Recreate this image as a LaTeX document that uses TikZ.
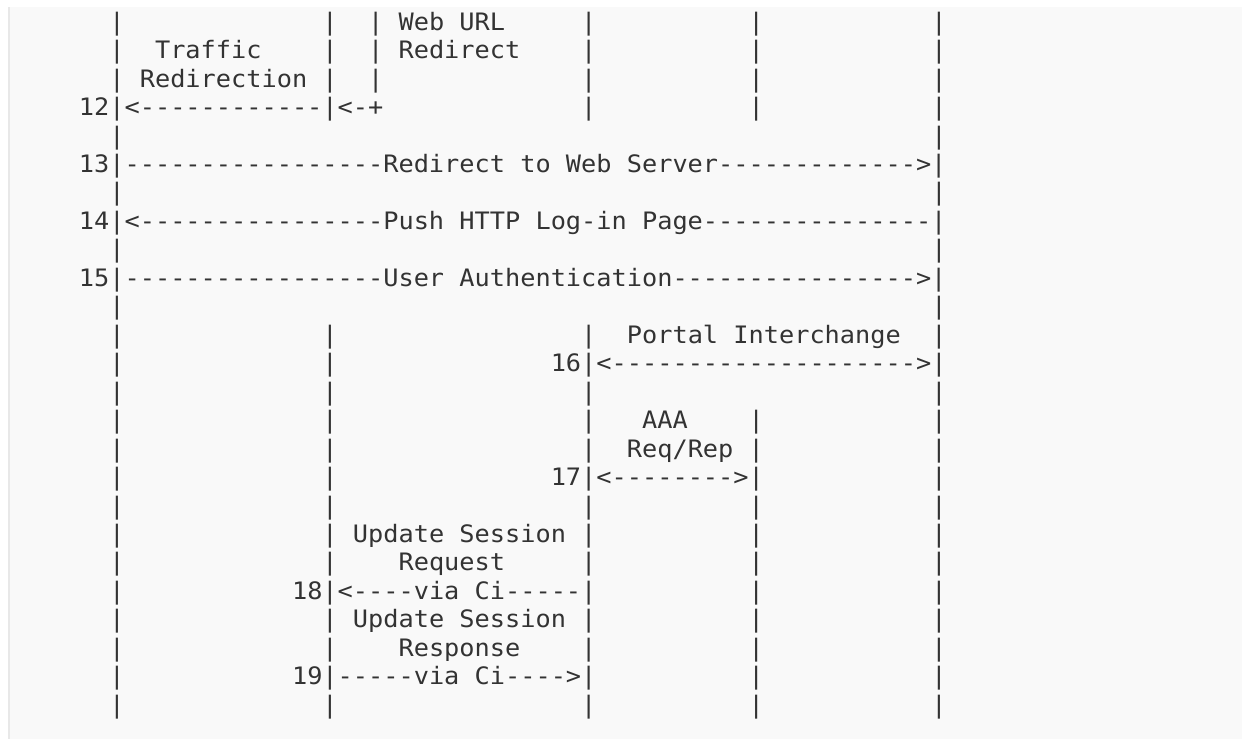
\documentclass[tikz,border=0pt]{standalone}
\usepackage{fontspec}
\usepackage{graphicx}
\setmonofont{DejaVu Sans Mono}
\definecolor{ink}{HTML}{333333}
\definecolor{prebg}{HTML}{F9F9F9}
\definecolor{preborder}{HTML}{E8E8E8}
\tikzset{
  asciitok/.style={anchor=base west, inner sep=0pt, outer sep=0pt, text=ink,
    font=\ttfamily\fontsize{24}{28}\selectfont}
}
\newcommand\tk[3]{\node[asciitok] (t#1c#2) at ({18.07+#2*15.22},{30.2+#1*28.46}) {\scalebox{1.0534}[1]{#3}};}
\newcommand\bars[2]{\foreach \cc in {#2} {\tk{#1}{\cc}{|}}}
\begin{document}
\begin{tikzpicture}[x=1pt,y=-1pt]
\useasboundingbox (0,0) rectangle (1242,739);
\fill[white] (0,0) rectangle (1242,739);
\fill[prebg] (8,7) rectangle (1242,739);
\draw[preborder, line width=1.5pt] (8.75,7) -- (8.75,739);
% row 0
\bars{0}{6,20,23,37,48,60}
\tk{0}{25}{Web URL}
% row 1
\bars{1}{6,20,23,37,48,60}
\tk{1}{9}{Traffic}
\tk{1}{25}{Redirect}
% row 2
\bars{2}{6,20,23,37,48,60}
\tk{2}{8}{Redirection}
% row 3
\tk{3}{4}{12|<------------|<-+}
\bars{3}{37,48,60}
% row 4
\bars{4}{6,60}
% row 5
\tk{5}{4}{13|-----------------Redirect to Web Server------------->|}
% row 6
\bars{6}{6,60}
% row 7
\tk{7}{4}{14|<----------------Push HTTP Log-in Page---------------|}
% row 8
\bars{8}{6,60}
% row 9
\tk{9}{4}{15|-----------------User Authentication---------------->|}
% row 10
\bars{10}{6,60}
% row 11
\bars{11}{6,20,37,60}
\tk{11}{40}{Portal Interchange}
% row 12
\bars{12}{6,20}
\tk{12}{35}{16|<-------------------->|}
% row 13
\bars{13}{6,20,37,60}
% row 14
\bars{14}{6,20,37,48,60}
\tk{14}{41}{AAA}
% row 15
\bars{15}{6,20,37,48,60}
\tk{15}{40}{Req/Rep}
% row 16
\bars{16}{6,20,60}
\tk{16}{35}{17|<-------->|}
% row 17
\bars{17}{6,20,37,48,60}
% row 18
\bars{18}{6,20,37,48,60}
\tk{18}{22}{Update Session}
% row 19
\bars{19}{6,20,37,48,60}
\tk{19}{25}{Request}
% row 20
\bars{20}{6,48,60}
\tk{20}{18}{18|<----via Ci-----|}
% row 21
\bars{21}{6,20,37,48,60}
\tk{21}{22}{Update Session}
% row 22
\bars{22}{6,20,37,48,60}
\tk{22}{25}{Response}
% row 23
\bars{23}{6,48,60}
\tk{23}{18}{19|-----via Ci---->|}
% row 24
\bars{24}{6,20,37,48,60}
\end{tikzpicture}
\end{document}
